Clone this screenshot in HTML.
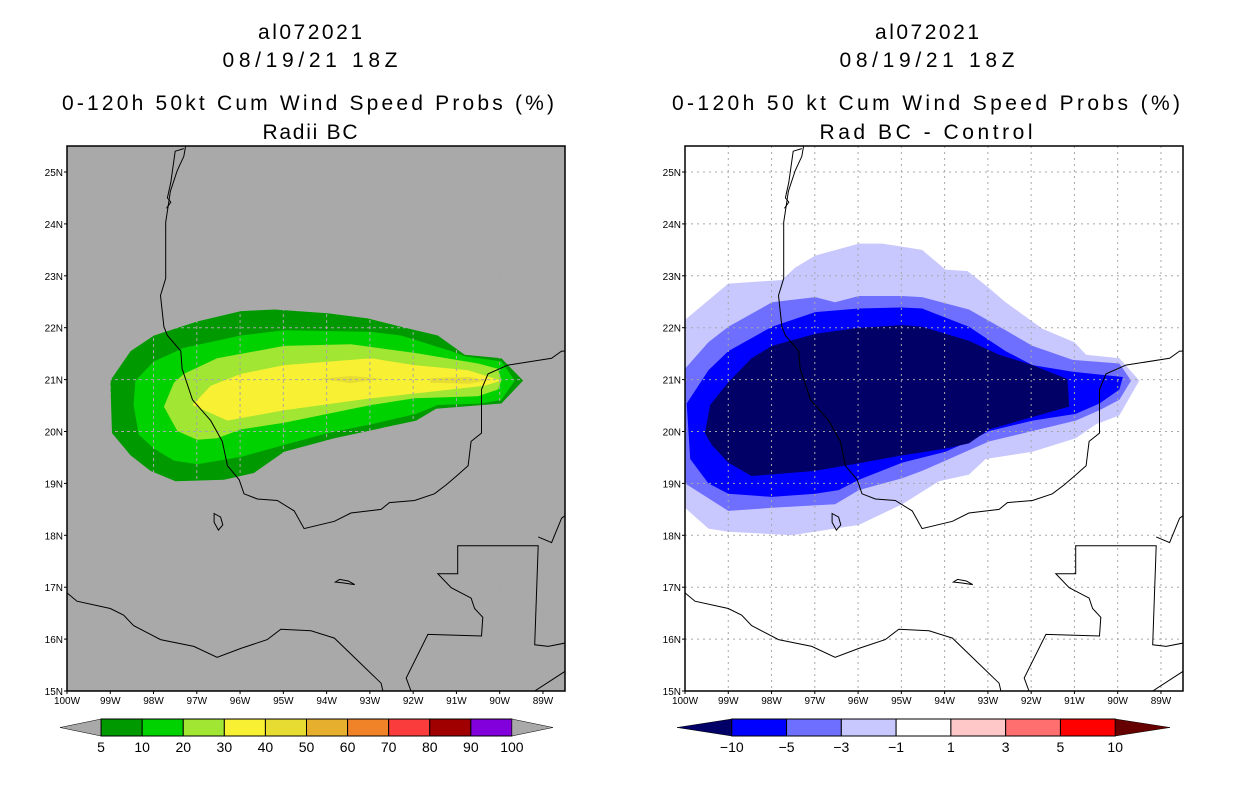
<!DOCTYPE html>
<html><head><meta charset="utf-8"><style>
html,body{margin:0;padding:0;background:#fff;}
svg{display:block;font-family:"Liberation Sans",sans-serif;}
</style></head><body>
<svg id="root" width="1236" height="800" viewBox="0 0 1236 800">
<g font-size="21" text-anchor="middle" fill="#000">
<text x="310" y="39" textLength="104">al072021</text><text x="310" y="67" textLength="175">08/19/21 18Z</text>
<text x="308" y="110" textLength="492">0-120h 50kt Cum Wind Speed Probs (%)</text><text x="310" y="139" textLength="95">Radii BC</text></g>
<g font-size="21" text-anchor="middle" fill="#000">
<text x="927" y="39" textLength="104">al072021</text><text x="927" y="67" textLength="175">08/19/21 18Z</text>
<text x="926" y="110" textLength="508">0-120h 50 kt Cum Wind Speed Probs (%)</text><text x="926" y="139" textLength="213">Rad BC - Control</text></g>
</svg>
<script>
const NS='http://www.w3.org/2000/svg';
const root=document.getElementById('root');
// ---- data ----
const latTicks=[15,16,17,18,19,20,21,22,23,24,25];
const lonTicks=[100,99,98,97,96,95,94,93,92,91,90,89];
const leftLevels=['5','10','20','30','40','50','60','70','80','90','100'];
const leftColors=['#009a00','#00d200','#a0e632','#f8f032','#e6dc32','#e6af2d','#f08228','#fa3c3c','#a00000','#8200dc'];
const rightLevels=['-10','-5','-3','-1','1','3','5','10'];
const rightColors=['#0000ff','#6f6fff','#c8c8ff','#ffffff','#ffc8c8','#ff6f6f','#ff0000'];
// contours as [W lon, N lat]
const prob5=[[99.0,20.98],[98.96,19.97],[98.53,19.54],[98.07,19.24],[97.49,19.04],[96.37,19.07],[95.68,19.2],[94.98,19.61],[93.82,19.87],[91.93,20.21],[91.47,20.44],[89.96,20.54],[89.46,20.98],[89.96,21.41],[90.81,21.48],[91.43,21.85],[92.28,22.02],[93.05,22.18],[93.98,22.28],[95.21,22.35],[95.98,22.32],[96.99,22.12],[97.99,21.85],[98.53,21.55]];
const prob10=[[98.46,20.51],[98.42,20.98],[97.99,21.35],[97.3,21.61],[95.98,21.85],[94.98,21.95],[92.97,21.92],[92.28,21.85],[91.12,21.55],[90.81,21.45],[89.96,21.35],[89.65,20.98],[89.96,20.61],[90.42,20.54],[91.43,20.51],[91.93,20.34],[92.97,20.14],[93.98,19.97],[94.98,19.74],[95.98,19.51],[96.99,19.37],[97.53,19.44],[97.99,19.67],[98.34,19.94]];
const prob20=[[97.76,20.48],[97.53,20.94],[97.3,21.11],[96.53,21.41],[94.98,21.65],[93.44,21.68],[91.93,21.51],[90.5,21.31],[90.04,21.21],[89.96,20.98],[90.04,20.81],[90.5,20.68],[91.97,20.64],[92.97,20.51],[93.98,20.34],[94.98,20.17],[95.98,20.04],[96.53,19.87],[96.99,19.84],[97.45,20.01]];
const prob30=[[97.1,20.51],[96.68,20.88],[95.98,21.11],[94.98,21.28],[92.97,21.41],[91.97,21.28],[90.73,21.18],[90.35,21.08],[89.96,20.98],[90.35,20.88],[91.12,20.81],[92.97,20.64],[94.98,20.41],[96.29,20.21]];
const prob40a=[[94.13,21.02],[93.44,21.07],[92.74,21.02],[93.44,20.93]];
const prob40b=[[91.6,21.03],[90.7,21.05],[90.3,20.98],[90.7,20.92],[91.6,20.94]];
const diff1=[[100,22.15],[99.0,22.85],[97.76,22.92],[97.45,23.16],[96.99,23.39],[95.98,23.62],[95.44,23.62],[94.52,23.5],[93.98,23.12],[93.47,23.09],[93.01,22.79],[92.59,22.49],[91.74,21.98],[91.0,21.72],[90.73,21.48],[89.96,21.41],[89.5,20.98],[89.96,20.31],[90.5,20.14],[90.97,19.87],[91.97,19.61],[93.05,19.47],[93.44,19.17],[94.13,19.04],[94.98,18.6],[95.98,18.2],[97.53,18.0],[99.0,18.07],[99.46,18.13],[100,18.53]];
const diff3=[[100,21.21],[99.46,21.72],[99.0,22.02],[97.99,22.49],[96.99,22.59],[96.53,22.49],[95.98,22.61],[94.98,22.61],[94.52,22.59],[93.44,22.35],[92.59,21.95],[91.97,21.65],[91.04,21.38],[89.96,21.31],[89.69,20.98],[89.96,20.61],[90.42,20.41],[90.97,20.21],[91.97,20.01],[92.97,19.81],[93.44,19.64],[93.98,19.44],[94.52,19.24],[94.98,19.1],[95.98,18.87],[96.53,18.6],[97.99,18.53],[99.0,18.47],[100,19.0]];
const diff5=[[99.96,20.54],[99.46,21.18],[99.0,21.55],[97.99,22.02],[96.99,22.3],[95.98,22.37],[94.98,22.39],[94.52,22.37],[93.44,22.02],[92.59,21.55],[91.97,21.28],[91.04,21.15],[89.88,21.05],[89.96,20.81],[90.42,20.54],[90.97,20.34],[91.97,20.21],[92.97,20.01],[93.44,19.81],[93.98,19.61],[94.98,19.4],[95.98,19.07],[96.45,18.87],[96.99,18.8],[97.99,18.74],[99.0,18.8],[99.46,19.0],[99.88,19.47]];
const diff10=[[99.54,19.97],[99.42,20.51],[99.0,20.95],[98.46,21.41],[97.99,21.65],[96.99,21.88],[95.98,22.0],[94.98,22.05],[94.52,22.02],[93.44,21.75],[92.74,21.48],[91.97,21.28],[91.16,21.01],[91.12,20.48],[91.97,20.28],[92.97,20.04],[93.44,19.77],[93.98,19.67],[94.98,19.54],[95.98,19.39],[96.99,19.24],[98.46,19.14],[99.0,19.4],[99.38,19.74]];
const gulfCoast=[[97.26,25.5],[97.3,25.3],[97.45,25.03],[97.61,24.63],[97.72,24.03],[97.72,22.95],[97.84,22.62],[97.76,22.02],[97.68,21.85],[97.37,21.55],[97.34,21.21],[97.1,20.61],[96.68,20.21],[96.41,19.81],[96.29,19.34],[96.02,19.07],[95.91,18.8],[95.6,18.7],[95.14,18.67],[94.75,18.47],[94.52,18.13],[93.82,18.27],[93.44,18.43],[92.74,18.5],[92.55,18.63],[91.97,18.67],[91.51,18.8],[91.24,18.97],[91.0,19.14],[90.73,19.34],[90.66,19.81],[90.42,19.97],[90.42,20.81],[90.27,21.11],[89.81,21.28],[88.8,21.41],[88.57,21.55],[88.45,21.55]];
const texasIsland=[[97.3,25.45],[97.5,25.4],[97.55,25.1],[97.6,24.8],[97.68,24.5],[97.6,24.42],[97.7,24.3]];
const pacificCoast=[[100,16.89],[99.77,16.73],[99.0,16.59],[98.69,16.46],[98.46,16.26],[97.84,15.99],[97.07,15.86],[96.53,15.65],[95.98,15.82],[95.37,15.99],[95.06,16.19],[94.36,16.16],[93.82,16.02],[93.2,15.52],[92.74,15.15],[92.7,15.0]];
const guatBorder=[[92.05,15.0],[92.16,15.25],[91.66,16.09],[90.42,16.06],[90.39,16.42],[90.58,16.59],[90.66,16.79],[91.12,16.99],[91.43,17.26],[90.97,17.26],[90.97,17.8],[89.11,17.8],[89.19,15.89],[88.88,15.86],[88.45,15.93]];
const belizeCoast=[[89.11,17.97],[88.8,17.86],[88.57,18.33],[88.45,18.4]];
const hondCoast=[[89.19,15.0],[88.45,15.4]];
const lakeA=[[96.6,18.42],[96.45,18.35],[96.4,18.2],[96.5,18.1],[96.6,18.25]];
const lakeB=[[93.8,17.1],[93.7,17.15],[93.5,17.12],[93.35,17.05],[93.6,17.08]];

function mk(tag,attrs,parent){const e=document.createElementNS(NS,tag);for(const k in attrs)e.setAttribute(k,attrs[k]);(parent||root).appendChild(e);return e;}

function drawMap(x0,bg,fills,gridStyle,nm){
  const W=498,yTop=146,yBot=691;
  const px=w=>x0+(100-w)*43.27;
  const py=n=>691-(n-15)*51.9;
  const pts=a=>a.map(p=>px(p[0]).toFixed(1)+','+py(p[1]).toFixed(1)).join(' ');
  const g=mk('g',{});
  
  
  const cid='clip'+x0;
  const cp=mk('clipPath',{id:cid},g);mk('rect',{x:x0,y:yTop,width:W,height:yBot-yTop},cp);
  const bgR=mk('rect',{x:x0,y:yTop,width:W,height:yBot-yTop,fill:bg},g);
  
  
  const inner=mk('g',{'clip-path':'url(#'+cid+')'},g);
  fills.forEach(f=>{const p=mk('polygon',{points:pts(f[0]),fill:f[1]},inner);
    
    });
  const gg=mk('g',{stroke:'#a8a8a8','stroke-width':1,'stroke-dasharray':gridStyle},inner);
  
  
  lonTicks.forEach(w=>{if(w<100)mk('line',{x1:px(w),x2:px(w),y1:yTop,y2:yBot},gg);});
  latTicks.forEach(n=>{if(n>15)mk('line',{x1:x0,x2:x0+W,y1:py(n),y2:py(n)},gg);});
  const cg=mk('g',{fill:'none',stroke:'#000','stroke-width':1},inner);
  
  
  [gulfCoast,texasIsland,pacificCoast,guatBorder,belizeCoast,hondCoast].forEach(l=>mk('polyline',{points:pts(l)},cg));
  [lakeA,lakeB].forEach(l=>mk('polygon',{points:pts(l)},cg));
  const fr=mk('rect',{x:x0,y:yTop,width:W,height:yBot-yTop,fill:'none',stroke:'#000','stroke-width':1.5},g);
  
  
  const ax=mk('g',{'font-size':10,fill:'#000'},g);
  
  
  latTicks.forEach(n=>{const t=mk('text',{x:x0-4,y:py(n)+4,'text-anchor':'end'},ax);t.textContent=n+'N';
    mk('line',{x1:x0-3,x2:x0,y1:py(n),y2:py(n),stroke:'#000'},ax);});
  const ax2=mk('g',{'font-size':10,fill:'#000','text-anchor':'middle'},g);
  
  
  lonTicks.forEach(w=>{const t=mk('text',{x:px(w),y:704},ax2);t.textContent=w+'W';
    mk('line',{x1:px(w),x2:px(w),y1:yBot,y2:yBot+3,stroke:'#000'},ax2);});
}

function drawBar(xL,xR,colors,labels,triL,triR,nm){
  const n=colors.length, bw=(xR-xL)/(n+2);
  const tw=(xR-xL-bw*n)/2;
  const y0=719,y1=736,ym=727.5;
  const g=mk('g',{});
  
  
  const t1=mk('polygon',{points:`${xL},${ym} ${xL+tw},${y0} ${xL+tw},${y1}`,fill:triL,stroke:'#000','stroke-width':0.5},g);
  
  
  colors.forEach((c,i)=>{const r=mk('rect',{x:xL+tw+i*bw,y:y0,width:bw,height:y1-y0,fill:c,stroke:'#000','stroke-width':1},g);
    
    });
  const t2=mk('polygon',{points:`${xR},${ym} ${xR-tw},${y0} ${xR-tw},${y1}`,fill:triR,stroke:'#000','stroke-width':0.5},g);
  
  
  labels.forEach((l,i)=>{const t=mk('text',{x:xL+tw+i*bw,y:752,'font-size':14,'text-anchor':'middle'},g);
    
    
    t.textContent=l.replace('-','\u2212');});
}

drawMap(67,'#a9a9a9',[[prob5,leftColors[0],'contour-5'],[prob10,leftColors[1],'contour-10'],[prob20,leftColors[2],'contour-20'],[prob30,leftColors[3],'contour-30'],[prob40a,leftColors[4],'contour-40'],[prob40b,leftColors[4],'contour-40-east']],'3,3','left-map');
drawMap(685,'#ffffff',[[diff1,rightColors[2],'contour-minus1'],[diff3,rightColors[1],'contour-minus3'],[diff5,rightColors[0],'contour-minus5'],[diff10,'#000066','contour-minus10']],'2,4','right-map');
drawBar(60,553,leftColors,leftLevels,'#a9a9a9','#a9a9a9','left-colorbar');
drawBar(677,1170,rightColors,rightLevels,'#000066','#660000','right-colorbar');
</script>
</body></html>
